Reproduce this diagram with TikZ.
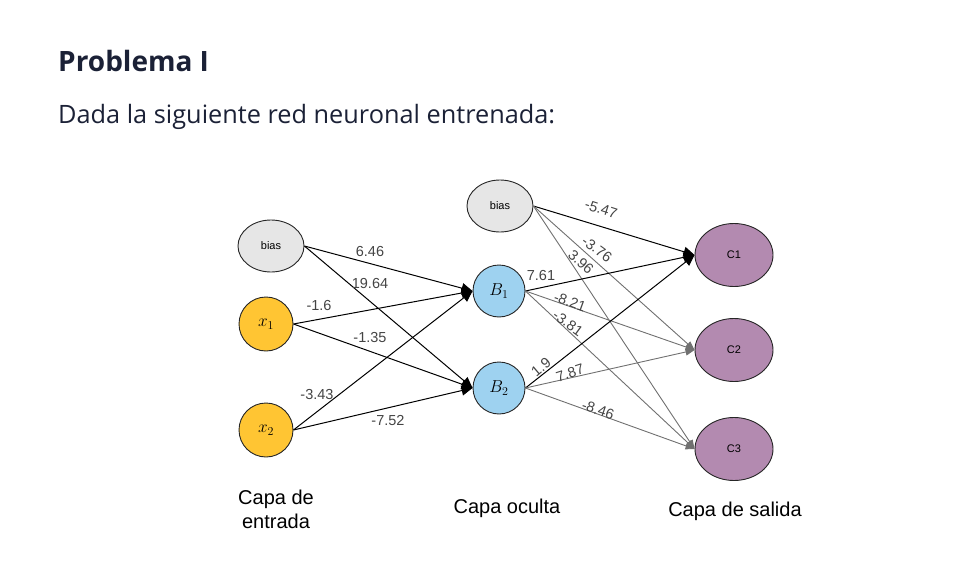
\documentclass[tikz,border=0pt]{standalone}
\usepackage{fontspec}
\setmainfont{Liberation Sans}
\newfontfamily\headfont{Open Sans}
\usetikzlibrary{arrows.meta,shapes.geometric}

\definecolor{inkblue}{HTML}{1B2136}
\definecolor{biasgray}{HTML}{E6E6E6}
\definecolor{inyellow}{HTML}{FFC533}
\definecolor{hidblue}{HTML}{9ED2F0}
\definecolor{outpurple}{HTML}{B38AB0}
\definecolor{wgray}{HTML}{444444}
\definecolor{edgegray}{HTML}{707070}

\begin{document}
\begin{tikzpicture}[x=1pt, y=-1pt,
    neuron/.style={draw=black!85, line width=0.9pt},
    biasnode/.style={neuron, ellipse, fill=biasgray, minimum width=66pt, minimum height=52pt, font=\fontsize{11}{12}\selectfont},
    innode/.style={neuron, circle, fill=inyellow, minimum size=54pt, inner sep=0pt, font=\fontsize{17}{19}\selectfont},
    hidnode/.style={neuron, circle, fill=hidblue, minimum size=52pt, inner sep=0pt, font=\fontsize{17}{19}\selectfont},
    outnode/.style={neuron, ellipse, fill=outpurple, minimum width=78pt, minimum height=63pt, font=\fontsize{11}{12}\selectfont},
    wlab/.style={text=wgray, font=\fontsize{14.5}{16}\selectfont, inner sep=1pt},
    layer/.style={font=\fontsize{20}{24}\selectfont, align=center},
    blackedge/.style={line width=1pt, -{Triangle[length=11pt,width=10pt]}},
    grayedge/.style={draw=edgegray, line width=0.9pt, -{Triangle[length=9pt,width=7pt]}}
]
\useasboundingbox (0,0) rectangle (959,578);

% heading
\node[anchor=base west, inner sep=0pt, text=inkblue, font=\headfont\bfseries\fontsize{28}{32}\selectfont] (title) at (58,71) {Problema I};
\node[anchor=base west, inner sep=0pt, text=inkblue, font=\headfont\fontsize{25.3}{30}\selectfont] (intro) at (58,123) {Dada la siguiente red neuronal entrenada:};

% neurons
\node[biasnode] (bias1) at (271,246) {bias};
\node[innode] (x1) at (266,324) {$x_1$};
\node[innode] (x2) at (266,430) {$x_2$};
\node[biasnode] (bias2) at (500,206) {bias};
\node[hidnode] (B1) at (499,291) {$B_1$};
\node[hidnode] (B2) at (499,388) {$B_2$};
\node[outnode] (C1) at (734,255) {C1};
\node[outnode] (C2) at (734,350) {C2};
\node[outnode] (C3) at (734,449) {C3};

% connections
\foreach \src in {bias1,x1,x2}
    \foreach \dst in {B1,B2}
        \draw[blackedge] (\src.east) -- (\dst.west);
\foreach \src in {bias2,B1,B2} {
    \draw[blackedge] (\src.east) -- (C1.west);
    \foreach \dst in {C2,C3}
        \draw[grayedge] (\src.east) -- (\dst.west);
}

% weights
\node[wlab] (w1) at (370,252) {6.46};
\node[wlab] (w2) at (370,284) {19.64};
\node[wlab] (w3) at (319,306) {-1.6};
\node[wlab] (w4) at (370,338) {-1.35};
\node[wlab] (w5) at (317,395) {-3.43};
\node[wlab] (w6) at (388,421) {-7.52};
\node[wlab, rotate=-18] (w7) at (601,209) {-5.47};
\node[wlab, rotate=-36] (w8) at (597,249) {-3.76};
\node[wlab, rotate=-42] (w9) at (581,262) {3.96};
\node[wlab] (w10) at (541,276) {7.61};
\node[wlab, rotate=-20] (w11) at (570,302) {-8.21};
\node[wlab, rotate=-36] (w12) at (568,323) {-3.81};
\node[wlab, rotate=40] (w13) at (541,367) {1.9};
\node[wlab, rotate=18] (w14) at (570,373) {7.87};
\node[wlab, rotate=-19] (w15) at (598,410) {-8.46};

% layer names
\node[layer] (inlayer) at (276,509) {Capa de\\entrada};
\node[layer] (hidlayer) at (507,508) {Capa oculta};
\node[layer] (outlayer) at (735,511) {Capa de salida};
\end{tikzpicture}
\end{document}
